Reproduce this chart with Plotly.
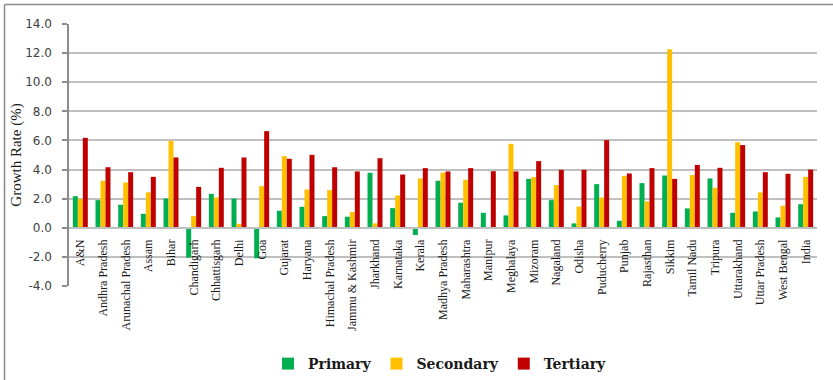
import plotly.graph_objects as go

states = ["A&N", "Andhra Pradesh", "Arunachal Pradesh", "Assam", "Bihar", "Chandigarh",
          "Chhattisgarh", "Delhi", "Goa", "Gujarat", "Haryana", "Himachal Pradesh",
          "Jammu & Kashmir", "Jharkhand", "Karnataka", "Kerala", "Madhya Pradesh",
          "Maharashtra", "Manipur", "Meghalaya", "Mizoram", "Nagaland", "Odisha",
          "Puducherry", "Punjab", "Rajasthan", "Sikkim", "Tamil Nadu", "Tripura",
          "Uttarakhand", "Uttar Pradesh", "West Bengal", "India"]

primary = [2.17, 1.90, 1.58, 0.96, 2.01, -2.05, 2.33, 2.01, -2.10, 1.17, 1.44, 0.80,
           0.76, 3.78, 1.35, -0.50, 3.23, 1.72, 1.03, 0.85, 3.36, 1.90, 0.30,
           3.00, 0.48, 3.07, 3.59, 1.33, 3.39, 1.03, 1.12, 0.71, 1.62]
secondary = [1.97, 3.23, 3.11, 2.43, 5.97, 0.80, 2.08, 0.27, 2.86, 4.92, 2.63, 2.59,
             1.08, 0.30, 2.22, 3.39, 3.80, 3.30, 0.00, 5.77, 3.48, 2.93, 1.46,
             2.08, 3.55, 1.81, 12.27, 3.62, 2.75, 5.88, 2.43, 1.51, 3.50]
tertiary = [6.18, 4.16, 3.82, 3.50, 4.83, 2.81, 4.12, 4.83, 6.64, 4.74, 5.01, 4.16,
            3.87, 4.78, 3.66, 4.10, 3.87, 4.10, 3.89, 3.87, 4.58, 3.98, 3.98,
            6.02, 3.73, 4.10, 3.36, 4.32, 4.12, 5.68, 3.82, 3.71, 4.00]

series_names = ["Primary", "Secondary", "Tertiary"]
series_colors = ["#00B050", "#FFC000", "#C00000"]
y_ticks = [-4, -2, 0, 2, 4, 6, 8, 10, 12, 14]

W, H = 833, 380
ML, MR, MT, MB = 69, 16, 24, 94
YMIN, YMAX = -4, 14

fig = go.Figure()
for name, vals, col in zip(series_names, [primary, secondary, tertiary], series_colors):
    fig.add_trace(go.Bar(x=states, y=vals, name=name, marker_color=col,
                         marker_line_width=0))

pw = W - ML - MR
ph = H - MT - MB


def px_x(p):
    return (p - ML) / pw


def px_y(p):
    return (H - MB - p) / ph


fig.update_layout(
    width=W, height=H,
    margin=dict(l=ML, r=MR, t=MT, b=MB, pad=0, autoexpand=False),
    paper_bgcolor="white", plot_bgcolor="white",
    barmode="group", bargap=0.34, bargroupgap=0,
    showlegend=True,
    legend=dict(orientation="h", x=px_x(440), xanchor="center", y=px_y(364), yanchor="middle",
                font=dict(family="DejaVu Serif", size=14, color="#1a1a1a", weight="bold"),
                itemwidth=30, traceorder="normal"),
    xaxis=dict(anchor="free", position=(0 - YMIN) / (YMAX - YMIN), automargin=False,
               showline=True, linecolor="#BFBFBF", linewidth=2,
               showgrid=False, ticks="", tickangle=-90,
               tickfont=dict(family="Liberation Serif", size=12, color="#1a1a1a"),
               ticklabelstandoff=6, range=[-0.5, len(states) - 0.5]),
    yaxis=dict(range=[YMIN, YMAX], tickvals=y_ticks, automargin=False,
               ticktext=[f"{v:.1f}" for v in y_ticks],
               showgrid=True, gridcolor="#BFBFBF", gridwidth=2,
               zeroline=False, showline=True, linecolor="#8C8C8C", linewidth=1.5,
               ticks="outside", ticklen=5, tickcolor="#8C8C8C", tickwidth=1.5,
               ticklabelstandoff=8,
               tickfont=dict(family="DejaVu Sans", size=12, color="#404040"),
               title=dict(text="Growth Rate (%)", standoff=0,
                          font=dict(family="Liberation Serif", size=15, color="#1a1a1a"))),
    shapes=[
        dict(type="line", xref="paper", yref="paper", x0=px_x(4.5), x1=px_x(W + 2),
             y0=px_y(4.5), y1=px_y(4.5), line=dict(color="#8A8A8A", width=1.5)),
        dict(type="line", xref="paper", yref="paper", x0=px_x(4.5), x1=px_x(4.5),
             y0=px_y(4.5), y1=px_y(H + 2), line=dict(color="#8A8A8A", width=1.5)),
    ],
)

fig.write_html("out.html")
